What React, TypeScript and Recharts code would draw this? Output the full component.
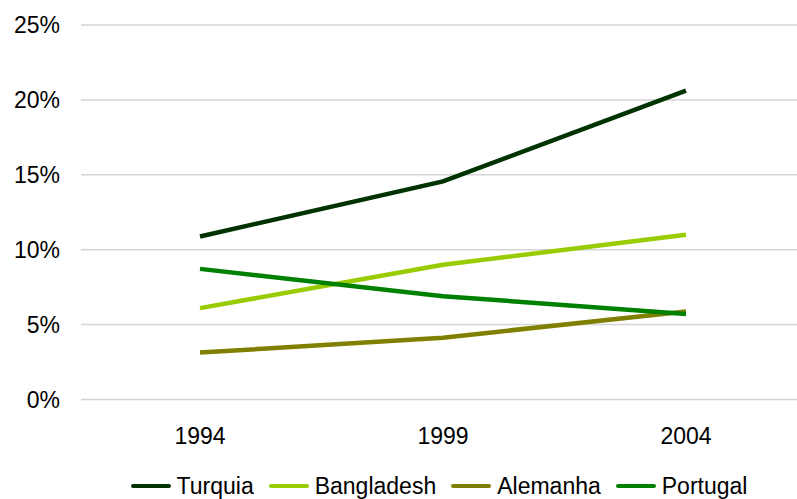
import { LineChart, Line, XAxis, YAxis, CartesianGrid, Legend } from "recharts";

const years = ["1994", "1999", "2004"];
const turquia = [10.88, 14.56, 20.62];
const bangladesh = [6.1, 8.99, 11.0];
const alemanha = [3.13, 4.13, 5.88];
const portugal = [8.72, 6.9, 5.7];
const yTicks = [0, 5, 10, 15, 20, 25];

const series = [
  { key: "Turquia", values: turquia, color: "#003300" },
  { key: "Bangladesh", values: bangladesh, color: "#99cc00" },
  { key: "Alemanha", values: alemanha, color: "#808000" },
  { key: "Portugal", values: portugal, color: "#008000" },
];

const data = years.map((year, i) => {
  const row: Record<string, string | number> = { year };
  series.forEach((s) => {
    row[s.key] = s.values[i];
  });
  return row;
});

const font = "'Liberation Sans', Arial, sans-serif";

// keep the legend in series order (recharts sorts it by name otherwise)
const LegendContent = ({ payload }: any) => {
  const items = series
    .map((s) => (payload || []).find((p: any) => p.value === s.key))
    .filter(Boolean);
  return (
    <div
      style={{
        display: "flex",
        justifyContent: "center",
        alignItems: "center",
        height: 26,
        fontFamily: font,
        fontSize: 23,
        color: "#000",
      }}
    >
      {items.map((p: any, i: number) => (
        <div
          key={p.value}
          style={{ display: "flex", alignItems: "center", marginLeft: i === 0 ? 0 : 15 }}
        >
          <svg width={40} height={6} style={{ marginRight: 6 }}>
            <line x1={2} y1={3} x2={38} y2={3} stroke={p.color} strokeWidth={4} strokeLinecap="round" />
          </svg>
          <span>{p.value}</span>
        </div>
      ))}
    </div>
  );
};

const App = () => {
  return (
    <div style={{ position: "absolute", left: 0, top: 0, background: "#fff" }}>
      <LineChart width={797} height={499} data={data} margin={{ top: 25, right: 0, left: 0, bottom: 0 }}>
        <CartesianGrid vertical={false} stroke="#d4d4d4" strokeWidth={1.5} />
        <XAxis
          dataKey="year"
          axisLine={false}
          tickLine={false}
          tickMargin={22}
          height={73.5}
          padding={{ left: 119, right: 111 }}
          tick={{ fill: "#000", fontSize: 23, fontFamily: font }}
        />
        <YAxis
          domain={[0, 25]}
          ticks={yTicks}
          width={81}
          axisLine={false}
          tickLine={false}
          tickMargin={15}
          tickFormatter={(v) => `${v}%`}
          tick={{ fill: "#000", fontSize: 23, fontFamily: font }}
        />
        <Legend
          verticalAlign="bottom"
          content={<LegendContent />}
          wrapperStyle={{ left: 81, width: 716, bottom: 0 }}
        />
        {series.map((s) => (
          <Line
            key={s.key}
            dataKey={s.key}
            name={s.key}
            stroke={s.color}
            strokeWidth={4.5}
            dot={false}
            type="linear"
            isAnimationActive={false}
          />
        ))}
      </LineChart>
    </div>
  );
};

export default App;
